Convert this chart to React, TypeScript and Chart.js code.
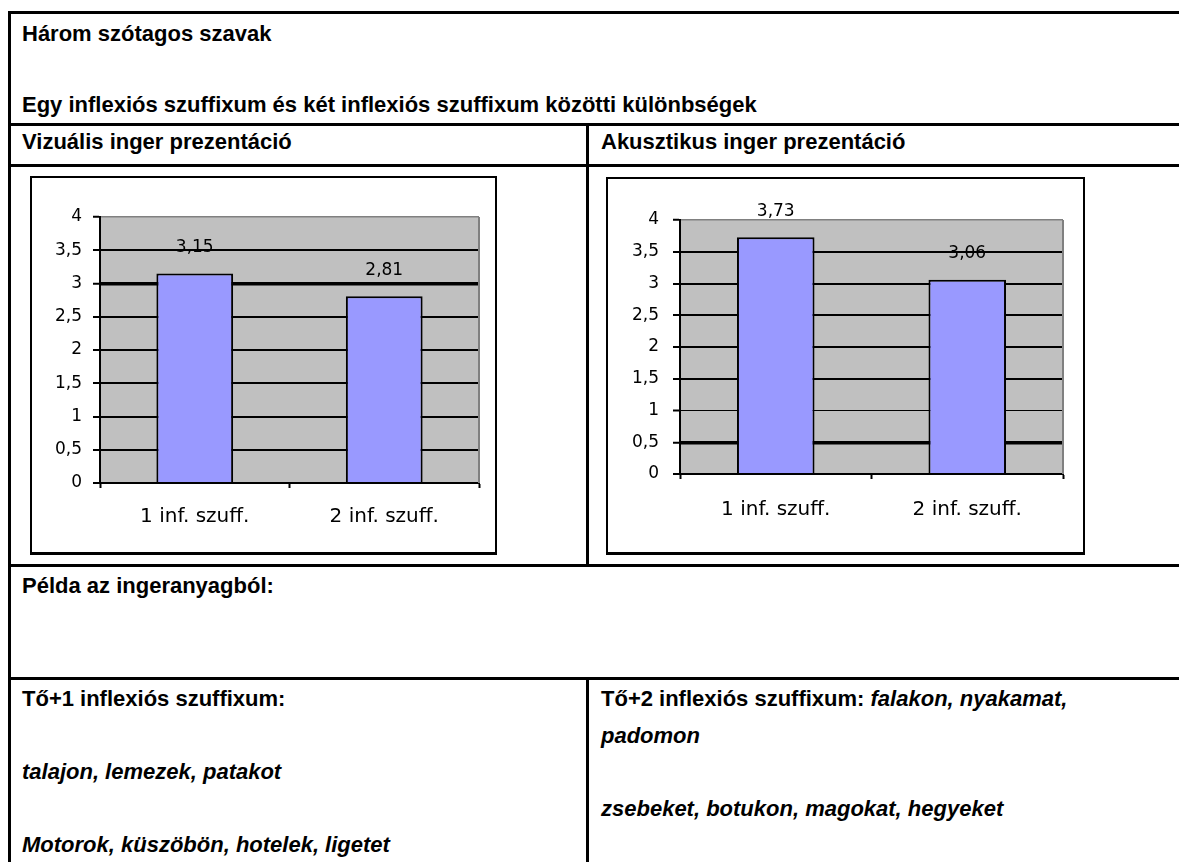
import React, { useEffect, useRef } from 'react';
import { Chart, registerables } from 'chart.js';

Chart.register(...registerables);

// ---- data ----
const categories = ['1 inf. szuff.', '2 inf. szuff.'];
const visualValues = [3.15, 2.81];
const acousticValues = [3.73, 3.06];
const yTickValues = [0, 0.5, 1, 1.5, 2, 2.5, 3, 3.5, 4];

const commaNum = (v: number) => String(v).replace('.', ',');
const commaFixed = (v: number) => v.toFixed(2).replace('.', ',');

const plotFramePlugin = {
  id: 'plotFrame',
  beforeDraw(chart: any) {
    const { ctx, chartArea: a } = chart;
    ctx.save();
    ctx.fillStyle = '#c0c0c0';
    ctx.fillRect(a.left, a.top, a.right - a.left, a.bottom - a.top);
    ctx.restore();
  },
  beforeDatasetsDraw(chart: any) {
    const { ctx, chartArea: a } = chart;
    ctx.save();
    ctx.strokeStyle = '#808080';
    ctx.lineWidth = 2;
    ctx.beginPath();
    ctx.moveTo(a.right, a.top);
    ctx.lineTo(a.right, a.bottom);
    ctx.stroke();
    ctx.restore();
  },
};

const valueLabelPlugin = {
  id: 'valueLabels',
  afterDatasetsDraw(chart: any) {
    const ctx = chart.ctx;
    chart.data.datasets.forEach((ds: any, i: number) => {
      const meta = chart.getDatasetMeta(i);
      meta.data.forEach((bar: any, j: number) => {
        ctx.save();
        ctx.font = '17px "DejaVu Sans"';
        ctx.fillStyle = '#000';
        ctx.textAlign = 'center';
        ctx.textBaseline = 'middle';
        ctx.fillText(commaFixed(ds.data[j]), bar.x, bar.y - 26);
        ctx.restore();
      });
    });
  },
};

type Geo = {
  w: number; h: number; top: number; right: number;
  yWidth: number; xHeight: number; yPad: number; xPad: number;
};

function BarChart({ values, geo, heavy, light }: { values: number[]; geo: Geo; heavy: number; light: number | null }) {
  const ref = useRef<HTMLCanvasElement>(null);
  useEffect(() => {
    const chart = new Chart(ref.current as HTMLCanvasElement, {
      type: 'bar',
      data: {
        labels: categories,
        datasets: [{
          data: values,
          backgroundColor: '#9999ff',
          borderColor: '#000000',
          borderWidth: 2,
          borderSkipped: 'start',
          barPercentage: 0.405,
          categoryPercentage: 1,
        }],
      },
      options: {
        responsive: false,
        animation: false,
        devicePixelRatio: 1,
        layout: { padding: { top: geo.top, right: geo.right, left: 0, bottom: 0 } },
        plugins: { legend: { display: false }, tooltip: { enabled: false } },
        scales: {
          x: {
            type: 'category',
            offset: true,
            grid: {
              offset: true,
              drawOnChartArea: false,
              drawTicks: true,
              tickLength: 5,
              tickColor: '#000',
              tickWidth: 2,
            },
            border: { color: '#000', width: 2 },
            ticks: {
              color: '#000',
              font: { family: '"DejaVu Sans"', size: 20 },
              padding: geo.xPad,
              maxRotation: 0,
              autoSkip: false,
            },
            afterFit: (s: any) => { s.height = geo.xHeight; },
          },
          y: {
            min: 0,
            max: 4,
            afterBuildTicks: (s: any) => { s.ticks = yTickValues.map((v) => ({ value: v })); },
            grid: {
              color: (c: any) => (c.tick && c.tick.value === 4 ? '#808080' : '#000'),
              lineWidth: (c: any) => {
                const v = c.tick ? c.tick.value : -1;
                if (v === 4) return 1.5;
                if (v === heavy) return 3.5;
                if (light !== null && v === light) return 1;
                return 2;
              },
              drawTicks: true,
              tickLength: 7,
              tickColor: '#000',
              tickWidth: 2,
            },
            border: { color: '#000', width: 2 },
            ticks: {
              color: '#000',
              font: { family: '"DejaVu Sans"', size: 17 },
              padding: geo.yPad,
              callback: (v: any) => commaNum(Number(v)),
            },
            afterFit: (s: any) => { s.width = geo.yWidth; },
          },
        },
      },
      plugins: [plotFramePlugin, valueLabelPlugin],
    } as any);
    return () => chart.destroy();
  }, []);
  return <canvas ref={ref} width={geo.w} height={geo.h} style={{ display: 'block' }} />;
}

const txt: React.CSSProperties = {
  position: 'absolute',
  font: 'bold 22px "Liberation Sans", Arial, sans-serif',
  lineHeight: '22px',
  whiteSpace: 'nowrap',
  color: '#000',
};

function T({ x, y, children }: { x: number; y: number; children: React.ReactNode }) {
  return <div style={{ ...txt, left: x, top: y }}>{children}</div>;
}

function Line({ x, y, w, h }: { x: number; y: number; w: number; h: number }) {
  return <div style={{ position: 'absolute', left: x, top: y, width: w, height: h, background: '#000' }} />;
}

const leftGeo: Geo = { w: 463, h: 374, top: 39, right: 16, yWidth: 68, xHeight: 69, yPad: 11, xPad: 17 };
const rightGeo: Geo = { w: 475, h: 373, top: 41, right: 20, yWidth: 72, xHeight: 78, yPad: 14, xPad: 19 };

export default function App() {
  const it: React.CSSProperties = { fontStyle: 'italic' };
  return (
    <div style={{ position: 'absolute', left: 0, top: 0, width: 1179, height: 862, overflow: 'hidden', background: '#fff' }}>
      {/* table borders */}
      <Line x={8} y={11} w={1171} h={3} />
      <Line x={8} y={11} w={3} h={851} />
      <Line x={8} y={123} w={1171} h={3} />
      <Line x={8} y={164} w={1171} h={3} />
      <Line x={8} y={564} w={1171} h={3} />
      <Line x={8} y={677} w={1171} h={3} />
      <Line x={586} y={123} w={3} h={444} />
      <Line x={586} y={677} w={3} h={185} />

      {/* texts */}
      <T x={22} y={23}>Három szótagos szavak</T>
      <T x={22} y={94}>Egy inflexiós szuffixum és két inflexiós szuffixum közötti különbségek</T>
      <T x={22} y={131}>Vizuális inger prezentáció</T>
      <T x={601} y={131}>Akusztikus inger prezentáció</T>
      <T x={22} y={575}>Példa az ingeranyagból:</T>
      <T x={22} y={688}>Tő+1 inflexiós szuffixum:</T>
      <T x={22} y={761}><span style={it}>talajon, lemezek, patakot</span></T>
      <T x={22} y={834}><span style={it}>Motorok, küszöbön, hotelek, ligetet</span></T>
      <T x={601} y={688}>Tő+2 inflexiós szuffixum: <span style={it}>falakon, nyakamat,</span></T>
      <T x={601} y={725}><span style={it}>padomon</span></T>
      <T x={601} y={798}><span style={it}>zsebeket, botukon, magokat, hegyeket</span></T>

      {/* chart boxes */}
      <div style={{ position: 'absolute', left: 30, top: 176, width: 467, height: 379, boxSizing: 'border-box', border: '2px solid #000', borderBottomWidth: 3, background: '#fff' }}>
        <BarChart values={visualValues} geo={leftGeo} heavy={3} light={null} />
      </div>
      <div style={{ position: 'absolute', left: 606, top: 177, width: 479, height: 378, boxSizing: 'border-box', border: '2px solid #000', borderBottomWidth: 3, background: '#fff' }}>
        <BarChart values={acousticValues} geo={rightGeo} heavy={0.5} light={1} />
      </div>
    </div>
  );
}
